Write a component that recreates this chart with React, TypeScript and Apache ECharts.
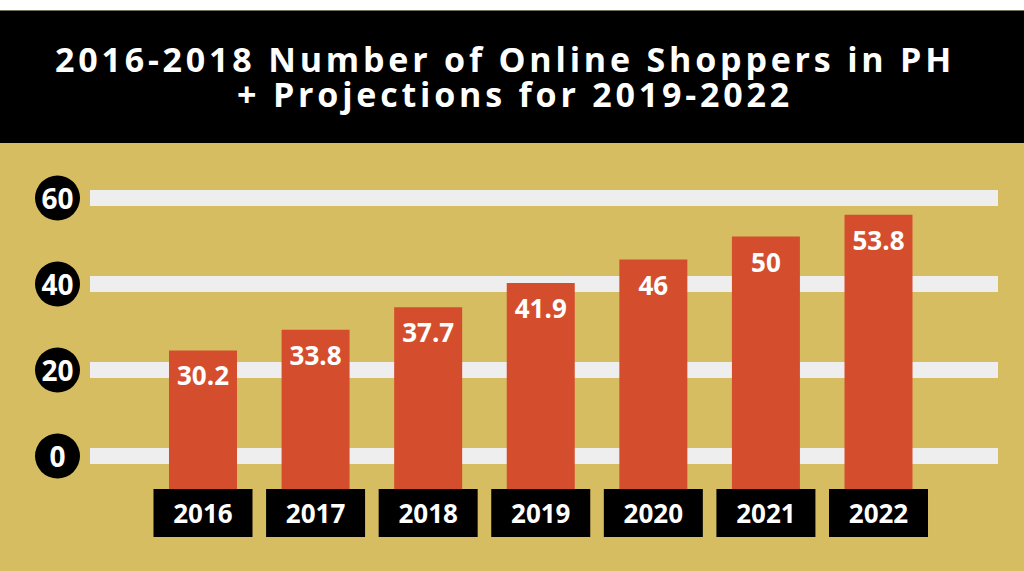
import React, { useEffect, useRef } from "react";
import * as echarts from "echarts";

const years = ["2016", "2017", "2018", "2019", "2020", "2021", "2022"];
const shoppers = [30.2, 33.8, 37.7, 41.9, 46, 50, 53.8];
const titleLines = ["2016-2018 Number of Online Shoppers in PH", "+ Projections for 2019-2022"];

const GOLD = "#d7bd62";
const RED = "#d44e2e";
const GRID = "#eeeeee";

export default function App() {
  const ref = useRef<HTMLDivElement>(null);
  useEffect(() => {
    if (!ref.current) return;
    const chart = echarts.init(ref.current, undefined, { renderer: "svg" });
    chart.setOption({
      animation: false,
      backgroundColor: GOLD,
      graphic: [
        { type: "rect", left: 0, top: 0, shape: { width: 1024, height: 10.5 }, style: { fill: "#ffffff" }, z: -10 },
        { type: "rect", left: 0, top: 10.5, shape: { width: 1024, height: 132.5 }, style: { fill: "#000000" }, z: -10 },
        {
          type: "text",
          x: 505,
          y: 59,
          style: {
            text: titleLines[0],
            fill: "#ffffff",
            font: "bold 34px 'Open Sans'",
            lineHeight: 32,
            align: "center",
            verticalAlign: "middle",
          },
        },
        {
          type: "text",
          x: 515,
          y: 94,
          style: {
            text: titleLines[1],
            fill: "#ffffff",
            font: "bold 34px 'Open Sans'",
            lineHeight: 32,
            align: "center",
            verticalAlign: "middle",
          },
        },
      ],
      grid: [
        { left: 90, right: 26, top: 198, bottom: 115 },
        { left: 146.7, right: 1024 - 934.8, top: 179, bottom: 82 },
      ],
      xAxis: [
        { type: "value", gridIndex: 0, show: false, min: 0, max: 1 },
        {
          type: "category",
          gridIndex: 1,
          data: years,
          axisLine: { show: false },
          axisTick: { show: false },
          axisLabel: {
            margin: 0,
            color: "#ffffff",
            fontFamily: "Open Sans",
            fontWeight: "bold",
            fontSize: 26,
            backgroundColor: "#000000",
            width: 99,
            height: 48,
            lineHeight: 48,
            align: "center",
          },
        },
      ],
      yAxis: [
        {
          type: "value",
          gridIndex: 0,
          min: 0,
          max: 60,
          interval: 20,
          axisLine: { show: false },
          axisTick: { show: false },
          splitLine: { show: true, lineStyle: { color: GRID, width: 16 } },
          axisLabel: {
            margin: 32.5,
            color: "#ffffff",
            fontFamily: "Open Sans",
            fontWeight: "bold",
            fontSize: 28,
            backgroundColor: "#000000",
            width: 45,
            height: 45,
            lineHeight: 45,
            borderRadius: 22.5,
            align: "center",
          },
        },
        {
          type: "value",
          gridIndex: 1,
          min: 6.1,
          max: 60,
          show: false,
          splitLine: { show: false },
        },
      ],
      series: [
        {
          type: "bar",
          xAxisIndex: 1,
          yAxisIndex: 1,
          data: shoppers,
          barWidth: 68,
          itemStyle: { color: RED },
          label: {
            show: true,
            position: "insideTop",
            distance: 12,
            color: "#ffffff",
            fontFamily: "Open Sans",
            fontWeight: "bold",
            fontSize: 26,
          },
        },
      ],
    });
    // tracked (letter-spaced) title, as in the reference
    ref.current.querySelectorAll("text").forEach((t) => {
      if (titleLines.indexOf((t.textContent || "").trim()) >= 0) {
        (t as SVGTextElement).style.letterSpacing = "3.8px";
      }
    });
    return () => chart.dispose();
  }, []);
  return <div ref={ref} style={{ position: "fixed", left: 0, top: 0, width: 1024, height: 571 }} />;
}
